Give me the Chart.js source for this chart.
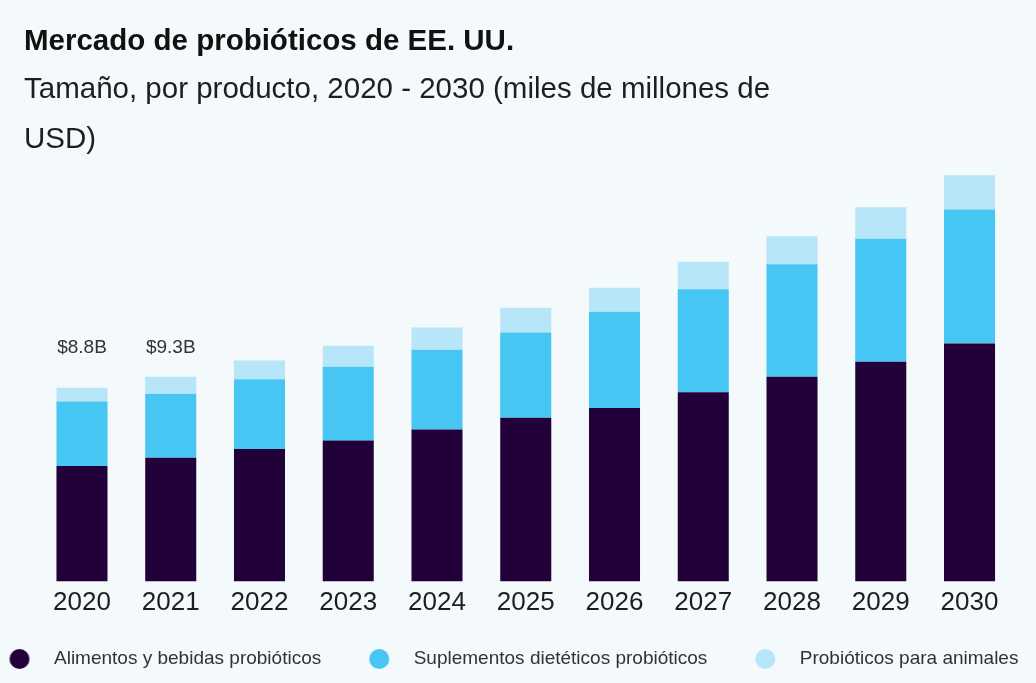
<!DOCTYPE html>
<html lang="es">
<head>
<meta charset="utf-8">
<title>Mercado de probióticos de EE. UU.</title>
<script src="https://cdn.jsdelivr.net/npm/chart.js@4.4.1/dist/chart.umd.min.js"></script>
<style>
  html, body { margin: 0; padding: 0; background: #f4f9fc; }
  #wrap { width: 1036px; height: 683px; position: relative; overflow: hidden; }
  canvas { display: block; position: absolute; left: 0; top: 0; }
  .head { position: absolute; left: 24px; margin: 0; white-space: nowrap;
          font-family: "Liberation Sans", Arial, Helvetica, sans-serif; font-size: 29.5px; }
  #title { top: 22px; line-height: 35px; font-weight: bold; color: #111111; }
  #subtitle { top: 63px; line-height: 50px; font-weight: normal; color: #1e1e1e; }
</style>
</head>
<body>
<div id="wrap">
  <canvas id="chart" width="1036" height="683"></canvas>
  <h1 class="head" id="title">Mercado de probióticos de EE. UU.</h1>
  <p class="head" id="subtitle">Tamaño, por producto, 2020 - 2030 (miles de millones de<br>USD)</p>
</div>
<script>
// Años del eje X
const years = ['2020', '2021', '2022', '2023', '2024', '2025', '2026', '2027', '2028', '2029', '2030'];

// Tamaño del mercado por producto (miles de millones de USD)
const alimentosBebidas = [5.24, 5.62, 6.01, 6.40, 6.90, 7.43, 7.88, 8.59, 9.30, 9.98, 10.81];
const suplementos      = [2.93, 2.90, 3.17, 3.35, 3.62, 3.87, 4.37, 4.68, 5.10, 5.58, 6.08];
const animales         = [0.63, 0.78, 0.85, 0.95, 1.01, 1.13, 1.09, 1.25, 1.28, 1.43, 1.55];

// Años cuyo total se rotula sobre la barra
const labelledYears = ['2020', '2021'];

const seriesNames = ['Alimentos y bebidas probióticos', 'Suplementos dietéticos probióticos', 'Probióticos para animales'];
const seriesColors = ['#22003a', '#47c5f3', '#b6e6f8'];

const FONT = '"Liberation Sans", Arial, Helvetica, sans-serif';

// Marcador circular de la leyenda: el círculo va a la derecha del centro de la imagen
function legendDot(color) {
  const c = document.createElement('canvas');
  c.width = 45; c.height = 24;
  const g = c.getContext('2d');
  g.fillStyle = color;
  g.beginPath();
  g.arc(34, 12, 10, 0, Math.PI * 2);
  g.fill();
  return c;
}
const legendDots = seriesColors.map(legendDot);

// Totales por año encima de las barras seleccionadas
const totalLabels = {
  id: 'totalLabels',
  afterDatasetsDraw(chart) {
    const {ctx, scales: {x, y}} = chart;
    const sets = chart.data.datasets;
    const totals = chart.data.labels.map((_, i) => sets.reduce((s, d) => s + d.data[i], 0));
    const idx = labelledYears.map(yr => chart.data.labels.indexOf(yr));
    const topMost = Math.min(...idx.map(i => y.getPixelForValue(totals[i])));
    ctx.save();
    ctx.font = '19px ' + FONT;
    ctx.fillStyle = '#333333';
    ctx.textAlign = 'center';
    ctx.textBaseline = 'middle';
    idx.forEach(i => {
      ctx.fillText('$' + totals[i].toFixed(1) + 'B', x.getPixelForValue(i), topMost - 29);
    });
    ctx.restore();
  }
};

// Fondo del lienzo
const background = {
  id: 'background',
  beforeDraw(chart) {
    const {ctx, width, height} = chart;
    ctx.save();
    ctx.fillStyle = '#f4f9fc';
    ctx.fillRect(0, 0, width, height);
    ctx.restore();
  }
};

const hiddenAxis = (width) => ({
  grid: { display: false, drawTicks: false },
  border: { display: false },
  ticks: { display: false },
  afterFit(scale) { scale.width = width; }
});

new Chart(document.getElementById('chart'), {
  type: 'bar',
  data: {
    labels: years,
    datasets: [
      { label: seriesNames[0], data: alimentosBebidas, backgroundColor: seriesColors[0] },
      { label: seriesNames[1], data: suplementos, backgroundColor: seriesColors[1] },
      { label: seriesNames[2], data: animales, backgroundColor: seriesColors[2] }
    ]
  },
  options: {
    responsive: false,
    animation: false,
    devicePixelRatio: 1,
    layout: { padding: { left: -38.5, right: 0, top: 163, bottom: 4.5 } },
    datasets: {
      bar: { categoryPercentage: 1, barPercentage: 0.575, borderWidth: 0 }
    },
    scales: {
      x: {
        stacked: true,
        grid: { display: false, drawTicks: false },
        border: { display: false },
        ticks: {
          color: '#1e1e1e',
          padding: 5.4,
          autoSkip: false,
          maxRotation: 0,
          font: { family: FONT, size: 26 }
        },
        afterFit(scale) { scale.height = 58; }
      },
      y: Object.assign({ stacked: true, min: 0, max: 19, position: 'left' }, hiddenAxis(76.1)),
      yRight: Object.assign({ type: 'linear', min: 0, max: 19, position: 'right' }, hiddenAxis(22.1))
    },
    plugins: {
      title: { display: false },
      legend: {
        position: 'bottom',
        align: 'start',
        labels: {
          usePointStyle: true,
          pointStyleWidth: 73,
          padding: 10,
          color: '#333333',
          font: { family: FONT, size: 19 },
          generateLabels(chart) {
            const items = Chart.defaults.plugins.legend.labels.generateLabels(chart);
            items.forEach((it, i) => { it.pointStyle = legendDots[i]; });
            return items;
          }
        }
      },
      tooltip: { enabled: false }
    }
  },
  plugins: [background, totalLabels]
});
</script>
</body>
</html>
